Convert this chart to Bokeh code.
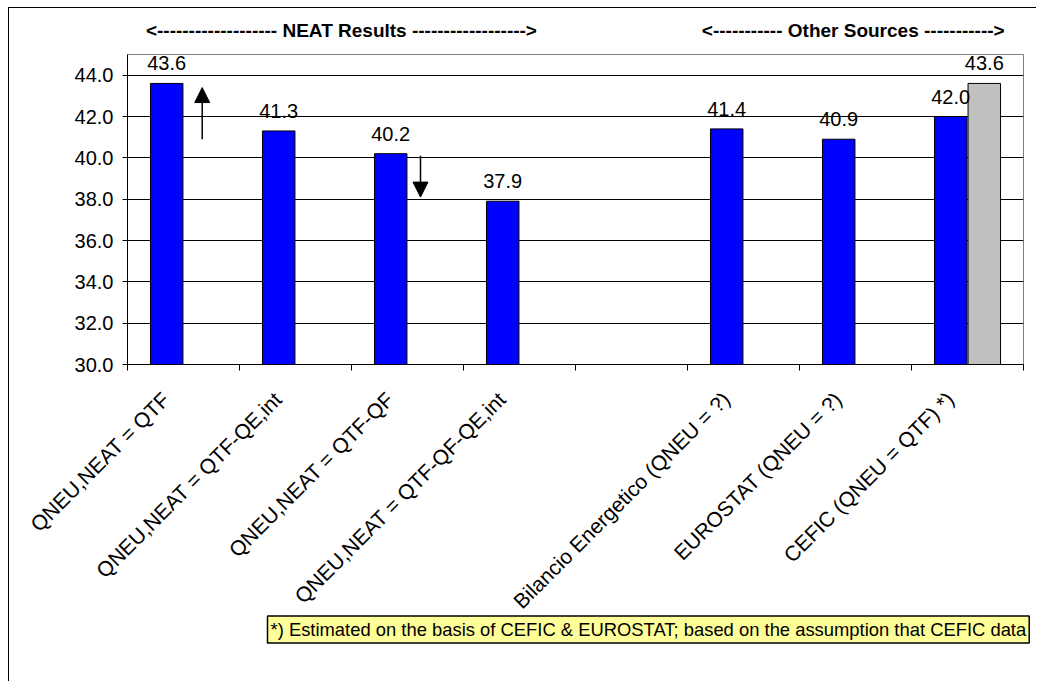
import math
from bokeh.plotting import figure
from bokeh.models import (Range1d, FixedTicker, PrintfTickFormatter, Title,
                          Arrow, NormalHead, ColumnDataSource, LinearAxis)
from bokeh.core.properties import value
from bokeh.embed import file_html
from bokeh.resources import INLINE

# ---- data ----
categories = ["QNEU,NEAT = QTF", "QNEU,NEAT = QTF-QE,int", "QNEU,NEAT = QTF-QF",
              "QNEU,NEAT = QTF-QF-QE,int", "", "Bilancio Energetico (QNEU = ?)",
              "EUROSTAT (QNEU = ?)", "CEFIC (QNEU = QTF) *)"]
blue_values = [43.6, 41.3, 40.2, 37.9, None, 41.4, 40.9, 42.0]
gray_values = [None, None, None, None, None, None, None, 43.6]
y_ticks = [30, 32, 34, 36, 38, 40, 42, 44]

group_labels = ["<------------------- NEAT Results ------------------>",
                "<----------- Other Sources ----------->"]
group_label_x = [1.91, 6.48]
footnote = "*) Estimated on the basis of CEFIC & EUROSTAT; based on the assumption that CEFIC data"

# arrows (x in category-index units, y in data units)
arrow_x = [0.667, 2.616]
arrow_y_start = [40.9, 40.1]
arrow_y_end = [43.4, 38.1]

FONT = "Liberation Sans"

p = figure(width=1028, height=674, x_range=Range1d(0, len(categories)),
           y_range=Range1d(30, 45), output_backend="svg", toolbar_location=None,
           min_border_left=118, min_border_right=14, min_border_top=46,
           min_border_bottom=318)
p.styles = {"margin-left": "8px", "margin-top": "7px",
            "border-left": "1px solid black", "border-top": "1px solid black"}
p.outline_line_color = "#808080"
p.background_fill_color = "white"
p.border_fill_color = "white"

off = 0.15
bw = 0.29
bx, bt = [], []
for i, v in enumerate(blue_values):
    if v is not None:
        bx.append(i + 0.5 - off)
        bt.append(v)
gx, gt = [], []
for i, v in enumerate(gray_values):
    if v is not None:
        gx.append(i + 0.5 + off)
        gt.append(v)

bsrc = ColumnDataSource(dict(x=bx, top=bt, lab=[f"{v:.1f}" for v in bt]))
gsrc = ColumnDataSource(dict(x=gx, top=gt, lab=[f"{v:.1f}" for v in gt]))

p.vbar(x="x", top="top", bottom=30, width=bw, source=bsrc,
       fill_color="#0000FF", line_color="black", line_width=1)
p.vbar(x="x", top="top", bottom=30, width=bw, source=gsrc,
       fill_color="#C0C0C0", line_color="black", line_width=1)

for src in (bsrc, gsrc):
    p.text(x="x", y="top", text="lab", source=src, text_align="center",
           text_baseline="alphabetic", y_offset=-20, text_font=value(FONT),
           text_font_size="20px", text_color="black")

# y axis
ya = p.yaxis[0]
ya.ticker = FixedTicker(ticks=y_ticks)
ya.formatter = PrintfTickFormatter(format="%.1f")
ya.major_label_text_font = FONT
ya.major_label_text_font_size = "20px"
ya.major_label_text_color = "black"
ya.major_tick_out = 5
ya.major_tick_in = 0
ya.minor_tick_line_color = None
ya.axis_line_color = "black"
ya.major_tick_line_color = "black"
ya.major_label_standoff = 9

# x axis (labels anchored slightly left of the category centre, ticks at boundaries)
label_shift = 0.155
xa = p.xaxis[0]
xa.ticker = FixedTicker(ticks=[i + 0.5 - label_shift for i in range(len(categories))],
                        minor_ticks=list(range(len(categories) + 1)))
xa.major_label_overrides = {i + 0.5 - label_shift: c for i, c in enumerate(categories)}
xa.major_tick_line_color = None
xa.major_tick_out = 0
xa.major_tick_in = 0
xa.minor_tick_line_color = "black"
xa.minor_tick_out = 6
xa.minor_tick_in = 0
xa.axis_line_color = "black"
xa.major_label_orientation = math.pi / 4
xa.major_label_text_font = FONT
xa.major_label_text_font_size = "21px"
xa.major_label_text_color = "black"
xa.major_label_standoff = 25

# group headers as a tick-less axis above the frame
ha = LinearAxis(ticker=FixedTicker(ticks=group_label_x),
                major_label_overrides={x: t for x, t in zip(group_label_x, group_labels)},
                axis_line_color=None, major_tick_line_color=None,
                minor_tick_line_color=None, major_tick_out=0, major_tick_in=0,
                major_label_standoff=14, major_label_text_font=FONT,
                major_label_text_font_size="19px",
                major_label_text_font_style="bold",
                major_label_text_color="black")
p.add_layout(ha, "above")

p.xgrid.visible = False
p.ygrid.ticker = FixedTicker(ticks=y_ticks)
p.ygrid.grid_line_color = "black"
p.ygrid.grid_line_width = 1

# arrows
for x, y0, y1 in zip(arrow_x, arrow_y_start, arrow_y_end):
    p.add_layout(Arrow(end=NormalHead(size=15, fill_color="black", line_color="black"),
                       x_start=x, y_start=y0, x_end=x, y_end=y1,
                       line_color="black", line_width=1.5))

# footnote box
note = Title(text=footnote, align="left", offset=140, standoff=-19,
             text_font=FONT, text_font_size="18.4px", text_font_style="normal",
             text_color="black", background_fill_color="#FFFF99",
             border_line_color="black", border_line_width=1.5, padding=3)
p.add_layout(note, "below")

open("out.html", "w").write(file_html(p, INLINE))
